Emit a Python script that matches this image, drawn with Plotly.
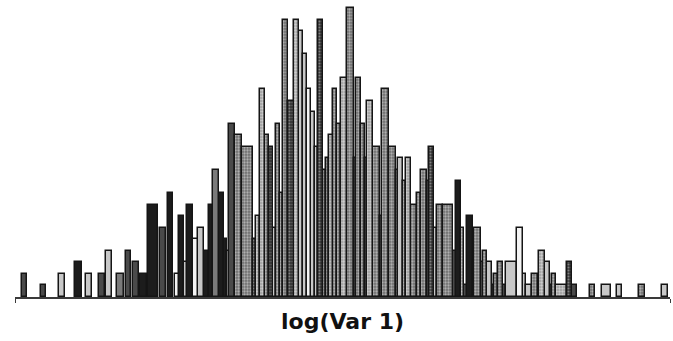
import plotly.graph_objects as go

# Histogram bins of log(Var 1) (arbitrary log units), counts and fill group
bin_lo = [0.067, 0.257, 0.44, 0.60, 0.71, 0.84, 0.91, 1.023, 1.107, 1.177, 1.25, 1.333, 1.45, 1.527,
          1.60, 1.643, 1.693, 1.717, 1.783, 1.827, 1.89, 1.94, 1.983, 2.043, 2.09, 2.117, 2.14, 2.20,
          2.267, 2.383, 2.41, 2.45, 2.50, 2.543, 2.577, 2.607, 2.65, 2.677, 2.733, 2.79, 2.843, 2.877,
          2.917, 2.96, 3.00, 3.027, 3.077, 3.107, 3.143, 3.183, 3.223, 3.257, 3.323, 3.39, 3.41, 3.457,
          3.50, 3.523, 3.583, 3.65, 3.673, 3.743, 3.807, 3.833, 3.877, 3.91, 3.96, 4.023, 4.057, 4.117,
          4.143, 4.19, 4.217, 4.283, 4.383, 4.407, 4.46, 4.493, 4.52, 4.577, 4.593, 4.66, 4.683, 4.723,
          4.767, 4.793, 4.827, 4.883, 4.91, 5.017, 5.083, 5.107, 5.173, 5.227, 5.243, 5.30, 5.35, 5.373,
          5.41, 5.517, 5.573, 5.75, 5.867, 6.017, 6.243, 6.467]
bin_hi = [0.123, 0.307, 0.50, 0.667, 0.77, 0.90, 0.97, 1.09, 1.16, 1.243, 1.317, 1.433, 1.51, 1.583,
          1.643, 1.693, 1.717, 1.783, 1.827, 1.89, 1.94, 1.983, 2.043, 2.09, 2.117, 2.14, 2.20, 2.267,
          2.383, 2.41, 2.45, 2.50, 2.543, 2.577, 2.607, 2.65, 2.677, 2.733, 2.79, 2.843, 2.877, 2.917,
          2.96, 3.00, 3.027, 3.077, 3.107, 3.143, 3.183, 3.223, 3.257, 3.323, 3.39, 3.41, 3.457, 3.50,
          3.523, 3.583, 3.65, 3.673, 3.743, 3.807, 3.833, 3.877, 3.91, 3.96, 4.023, 4.057, 4.117, 4.143,
          4.19, 4.217, 4.283, 4.383, 4.407, 4.46, 4.493, 4.52, 4.577, 4.593, 4.66, 4.683, 4.723, 4.767,
          4.793, 4.827, 4.883, 4.91, 5.017, 5.083, 5.107, 5.173, 5.227, 5.243, 5.30, 5.35, 5.373, 5.41,
          5.517, 5.573, 5.617, 5.80, 5.957, 6.067, 6.303, 6.527]
counts = [2, 1, 2, 3, 2, 2, 4, 2, 4, 3, 2, 8, 6, 9,
          2, 7, 3, 8, 5, 6, 4, 8, 11, 9, 5, 4, 15, 14,
          13, 5, 7, 18, 14, 13, 6, 15, 9, 24, 17, 24, 23, 21,
          18, 16, 13, 24, 11, 12, 14, 18, 15, 19, 25, 12, 19, 15,
          12, 17, 13, 7, 18, 13, 11, 12, 10, 12, 8, 9, 11, 10,
          13, 6, 8, 8, 4, 10, 6, 1, 7, 3, 6, 3, 4, 3,
          1, 2, 3, 1, 3, 6, 2, 1, 2, 1, 4, 3, 1, 2,
          1, 3, 1, 1, 1, 1, 1, 1]
group = ["D", "D", "L", "K", "L", "D", "L", "G", "D", "D", "K", "K", "D", "K",
         "W", "K", "L", "K", "W", "L", "K", "K", "G", "K", "K", "L", "D", "P",
         "P", "PD", "PL", "PL", "P", "PD", "L", "P", "P", "P", "PD", "PL", "L", "L",
         "W", "L", "L", "PD", "P", "P", "PL", "P", "P", "PL", "P", "P", "P", "P",
         "P", "PL", "P", "P", "P", "P", "P", "L", "P", "PL", "P", "P", "P", "P",
         "PD", "L", "P", "P", "D", "K", "PL", "D", "K", "L", "P", "L", "P", "L",
         "D", "P", "P", "D", "L", "W", "L", "L", "P", "D", "PL", "L", "D", "P",
         "PL", "PD", "D", "P", "L", "L", "P", "L"]

styles = {
    "K": dict(color="#1c1c1c"),
    "D": dict(color="#4a4a4a"),
    "G": dict(color="#7a7a7a"),
    "L": dict(color="#c8c8c8"),
    "W": dict(color="#f4f4f4"),
    "P": dict(color="#8a8a8a", pattern=dict(shape=".", fgcolor="#f0f0f0", bgcolor="#6e6e6e", size=3, solidity=0.45)),
    "PL": dict(color="#b0b0b0", pattern=dict(shape=".", fgcolor="#ffffff", bgcolor="#9a9a9a", size=3, solidity=0.5)),
    "PD": dict(color="#555555", pattern=dict(shape=".", fgcolor="#cfcfcf", bgcolor="#333333", size=3, solidity=0.35)),
}

fig = go.Figure()
for g, st in styles.items():
    idx = [i for i, v in enumerate(group) if v == g]
    if not idx:
        continue
    xs = [(bin_lo[i] + bin_hi[i]) / 2 for i in idx]
    ws = [bin_hi[i] - bin_lo[i] for i in idx]
    ys = [counts[i] for i in idx]
    marker = dict(color=st["color"], line=dict(color="#151515", width=1.5))
    if "pattern" in st:
        marker["pattern"] = st["pattern"]
    fig.add_trace(go.Bar(x=xs, y=ys, width=ws, marker=marker, showlegend=False, hoverinfo="skip"))

fig.update_layout(
    width=673, height=341,
    margin=dict(l=15, r=3, t=5, b=44),
    paper_bgcolor="white", plot_bgcolor="white",
    barmode="overlay", bargap=0,
    xaxis=dict(range=[0, 6.55], showline=True, linecolor="#3a3a3a", linewidth=2,
               showgrid=False, zeroline=False, ticks="outside", tickvals=[0, 6.55],
               ticklen=4, tickcolor="#3a3a3a", showticklabels=False,
               title=dict(text="<b>log(Var 1)</b>", font=dict(family="DejaVu Sans", size=22, color="#111"),
                          standoff=12)),
    yaxis=dict(range=[0, 25.28], visible=False),
)
fig.write_html("out.html", config={"displayModeBar": False},
               post_script="document.body.style.margin='0';")
